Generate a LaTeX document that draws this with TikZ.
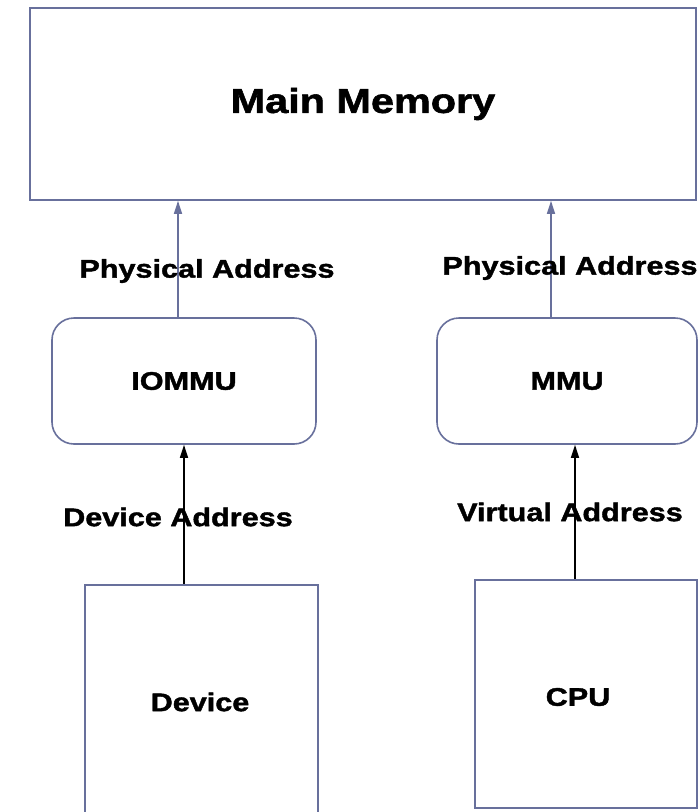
\documentclass[tikz,border=0pt]{standalone}
\usepackage{fontspec}
\newfontfamily\boxfont{Liberation Sans}[FakeStretch=1.2,FakeBold=1.6]
\usetikzlibrary{arrows.meta}
\definecolor{edgeblue}{RGB}{104,112,156}
\tikzset{
  unitbox/.style={draw=edgeblue,line width=1.6pt,fill=white,inner sep=0pt,font=\boxfont\bfseries\fontsize{25.5}{30}\selectfont},
  roundbox/.style={unitbox,rounded corners=22pt},
  addrlabel/.style={font=\boxfont\bfseries\fontsize{25.5}{30}\selectfont,inner sep=0pt},
  physarrow/.style={draw=edgeblue,line width=1.5pt,-{Triangle[length=13pt,width=8pt]}},
  virtarrow/.style={draw=black,line width=1.6pt,-{Triangle[length=13pt,width=8pt]}}
}
\begin{document}
\begin{tikzpicture}[x=1pt,y=-1pt]
\useasboundingbox (0,0) rectangle (698,812);
% memory on top
\node[unitbox,minimum width=666,minimum height=192,font=\boxfont\bfseries\fontsize{34.5}{40}\selectfont] (mem) at (363,104) {Main Memory};
% translation units
\node[roundbox,minimum width=264,minimum height=126] (iommu) at (184,381) {IOMMU};
\node[roundbox,minimum width=260,minimum height=126] (mmu) at (567,381) {MMU};
% requesters, cut at the bottom
\node[unitbox,minimum width=233,minimum height=240] (dev) at (201.5,705) {};
\node[unitbox,minimum width=222,minimum height=228] (cpu) at (586,694) {};
\node[addrlabel] (devname) at (200,702) {Device};
\node[addrlabel] (cpuname) at (578,697) {CPU};
\draw[physarrow] ([xshift=-6]iommu.north) -- ([xshift=-6]iommu.north |- mem.south);
\draw[physarrow] ([xshift=-16]mmu.north) -- ([xshift=-16]mmu.north |- mem.south);
\draw[virtarrow] ([xshift=-17.5]dev.north) -- ([xshift=-17.5]dev.north |- iommu.south);
\draw[virtarrow] ([xshift=-11]cpu.north) -- ([xshift=-11]cpu.north |- mmu.south);
\node[addrlabel] (physl) at (207,271) {Physical Address};
\node[addrlabel] (physr) at (570,268) {Physical Address};
\node[addrlabel] (devaddr) at (178,517) {Device Address};
\node[addrlabel] (virtaddr) at (570,512) {Virtual Address};
\end{tikzpicture}
\end{document}
